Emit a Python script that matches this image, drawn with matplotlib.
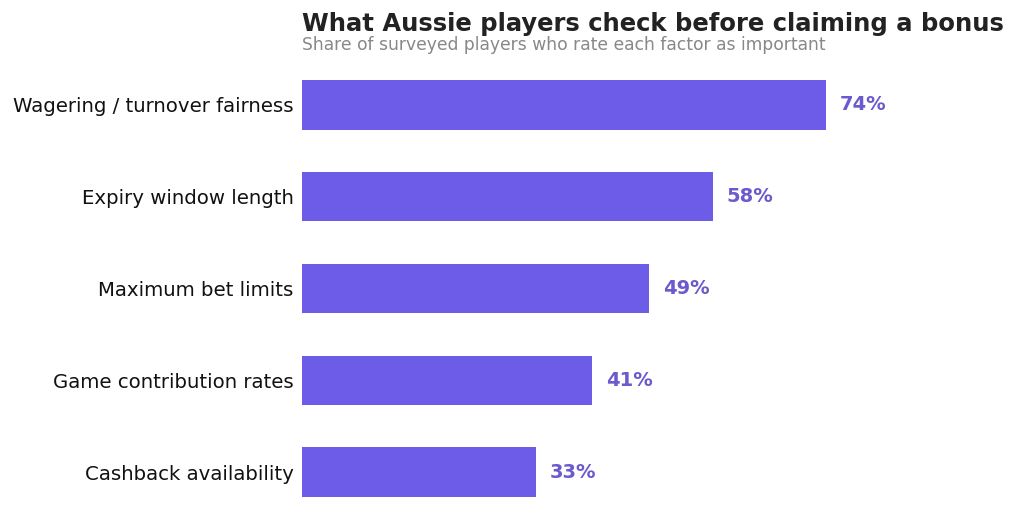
import matplotlib.pyplot as plt

factors = ["Wagering / turnover fairness", "Expiry window length", "Maximum bet limits",
           "Game contribution rates", "Cashback availability"]
shares = [74, 58, 49, 41, 33]

fig = plt.figure(figsize=(10.24, 5.31), dpi=100)
ax = fig.add_axes([302/1024, 13/531, 708/1024, 459/531])

y = list(range(len(factors)))
ax.barh(y, shares, height=0.54, color="#6c5ce7")
ax.set_xlim(0, 100)
ax.set_ylim(4.5, -0.5)
ax.set_yticks(y)
ax.set_yticklabels(factors, fontsize=14.2, color="#111111")
ax.tick_params(axis="y", length=0, pad=6)
ax.set_xticks([])
for s in ax.spines.values():
    s.set_visible(False)

for yi, v in zip(y, shares):
    ax.text(v + 2, yi, f"{v}%", va="center", ha="left", fontsize=14,
            fontweight="bold", color="#6a5acd")

fig.text(302/1024, 1 - 23.5/531, "What Aussie players check before claiming a bonus",
         fontsize=17.5, fontweight="bold", color="#222222", ha="left", va="center")
fig.text(302/1024, 1 - 45/531, "Share of surveyed players who rate each factor as important",
         fontsize=12.35, color="#888888", ha="left", va="center")

fig.savefig("out.png", dpi=100)
